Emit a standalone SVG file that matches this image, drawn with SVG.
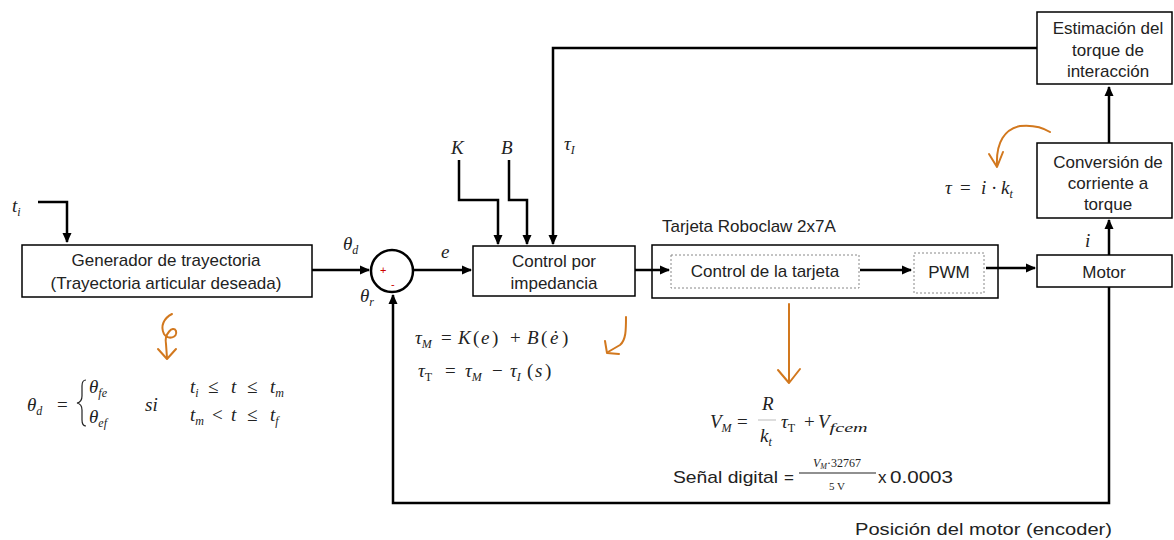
<svg xmlns="http://www.w3.org/2000/svg" width="1174" height="540" viewBox="0 0 1174 540">
<defs>
<marker id="ah" markerWidth="10" markerHeight="10" refX="9" refY="5" orient="auto" markerUnits="userSpaceOnUse">
<path d="M0,0.5 L10,5 L0,9.5 z" fill="#000"/>
</marker>
<style>
.box{fill:#fff;stroke:#000;stroke-width:1.5}
.dbox{fill:#fff;stroke:#888;stroke-width:1;stroke-dasharray:2,2}
.ln{fill:none;stroke:#000;stroke-width:2.5}
.lbl{font-family:"Liberation Sans",Arial,sans-serif;font-size:17px;fill:#222}
.m{font-family:"Liberation Serif","Times New Roman",serif;font-style:italic;font-size:19px;fill:#222}
.mr{font-family:"Liberation Serif","Times New Roman",serif;font-size:19px;fill:#222}
.s{font-size:12px}
.or{fill:none;stroke:#d2781e;stroke-width:2;stroke-linecap:round;stroke-linejoin:round}
</style>
</defs>
<rect width="1174" height="540" fill="#fff"/>

<g id="generador">
<rect class="box" x="22" y="245" width="290" height="52"/>
<text class="lbl" x="166" y="266" text-anchor="middle" font-size="17.5">Generador de trayectoria</text>
<text class="lbl" x="166" y="289" text-anchor="middle" font-size="17.5">(Trayectoria articular deseada)</text>
</g>

<g id="suma">
<circle cx="392" cy="271" r="21" fill="#fff" stroke="#000" stroke-width="2.5"/>
<text x="380" y="274" font-family="Liberation Sans,sans-serif" font-size="11" fill="#c00">+</text>
<text x="391" y="288" font-family="Liberation Sans,sans-serif" font-size="11" fill="#c00">-</text>
</g>

<g id="control-impedancia">
<rect class="box" x="473" y="246" width="162" height="50"/>
<text class="lbl" x="554" y="267" text-anchor="middle">Control por</text>
<text class="lbl" x="554" y="289" text-anchor="middle">impedancia</text>
</g>

<g id="tarjeta">
<text class="lbl" x="662" y="232" font-size="18">Tarjeta Roboclaw 2x7A</text>
<rect class="box" x="652" y="245" width="346" height="53"/>
</g>
<g id="control-tarjeta">
<rect class="dbox" x="671" y="255" width="188" height="33"/>
<text class="lbl" x="765" y="277" text-anchor="middle" font-size="17.5">Control de la tarjeta</text>
</g>
<g id="pwm">
<rect class="dbox" x="914" y="253" width="70" height="40"/>
<text class="lbl" x="949" y="278" text-anchor="middle" font-size="17.5">PWM</text>
</g>

<g id="motor">
<rect class="box" x="1037" y="255" width="135" height="32"/>
<text class="lbl" x="1104" y="278" text-anchor="middle">Motor</text>
</g>
<g id="conversion">
<rect class="box" x="1037" y="143" width="135" height="75"/>
<text class="lbl" x="1108" y="168" text-anchor="middle" font-size="17.5">Conversión de</text>
<text class="lbl" x="1108" y="189" text-anchor="middle" font-size="17.5">corriente a</text>
<text class="lbl" x="1108" y="210" text-anchor="middle" font-size="17.5">torque</text>
</g>
<g id="estimacion">
<rect class="box" x="1037" y="12" width="135" height="72"/>
<text class="lbl" x="1108" y="34" text-anchor="middle" font-size="17.5">Estimación del</text>
<text class="lbl" x="1108" y="56" text-anchor="middle" font-size="17.5">torque de</text>
<text class="lbl" x="1108" y="77" text-anchor="middle" font-size="17.5">interacción</text>
</g>

<g id="connectors">
<path class="ln" d="M38,202 H67 V242" marker-end="url(#ah)"/>
<path class="ln" d="M312,270 H369" marker-end="url(#ah)"/>
<path class="ln" d="M414,270 H471" marker-end="url(#ah)"/>
<path class="ln" d="M459,160 V200 H498 V244" marker-end="url(#ah)"/>
<path class="ln" d="M509,160 V200 H527 V244" marker-end="url(#ah)"/>
<path class="ln" d="M1037,48 H553 V244" marker-end="url(#ah)"/>
<path class="ln" d="M635,270 H669" marker-end="url(#ah)"/>
<path class="ln" d="M860,270 H911" marker-end="url(#ah)"/>
<path class="ln" d="M986,268 H1035" marker-end="url(#ah)"/>
<path class="ln" d="M1109,255 V220" marker-end="url(#ah)"/>
<path class="ln" d="M1109,143 V87" marker-end="url(#ah)"/>
<path class="ln" d="M1109,287 V503 H393 V295" marker-end="url(#ah)"/>
</g>

<g id="labels">
<text class="m" x="12" y="212">t<tspan class="s" dy="4">i</tspan></text>
<text class="m" x="343" y="250">θ<tspan class="s" dy="4">d</tspan></text>
<text class="m" x="441" y="258">e</text>
<text class="m" x="451" y="154">K</text>
<text class="m" x="501" y="154">B</text>
<text class="m" x="564" y="150">τ<tspan class="s" dy="4">I</tspan></text>
<text class="m" x="360" y="302">θ<tspan class="s" dy="4">r</tspan></text>
<text class="m" x="1085" y="247">i</text>
<text class="mr" y="194"><tspan x="945" font-style="italic">τ</tspan><tspan x="960">=</tspan><tspan x="981" font-style="italic">i</tspan><tspan x="991">·</tspan><tspan x="1001" font-style="italic">k</tspan><tspan class="s" dy="4" font-style="italic">t</tspan></text>
<text class="lbl" x="855" y="535" font-size="18" textLength="257" lengthAdjust="spacingAndGlyphs">Posición del motor (encoder)</text>
</g>

<g id="ecuacion-theta">
<text class="m" x="27" y="411" font-size="21">θ<tspan class="s" dy="4">d</tspan></text>
<text class="mr" x="57" y="411" font-size="21">=</text>
<path d="M86,380 q-4,0 -4,6 v10 q0,6 -5,7 q5,1 5,7 v10 q0,6 4,6" fill="none" stroke="#222" stroke-width="1.2"/>
<text class="m" x="89" y="393">θ<tspan class="s" dy="4">fe</tspan></text>
<text class="m" x="89" y="423">θ<tspan class="s" dy="4">ef</tspan></text>
<text class="m" x="145" y="411">si</text>
<text class="mr" y="393"><tspan x="190" font-style="italic">t</tspan><tspan class="s" dy="4" font-style="italic">i</tspan><tspan x="208" dy="-4">≤</tspan><tspan x="231" font-style="italic">t</tspan><tspan x="247">≤</tspan><tspan x="270" font-style="italic">t</tspan><tspan class="s" dy="4" font-style="italic">m</tspan></text>
<text class="mr" y="421"><tspan x="190" font-style="italic">t</tspan><tspan class="s" dy="4" font-style="italic">m</tspan><tspan x="212" dy="-4">&lt;</tspan><tspan x="231" font-style="italic">t</tspan><tspan x="247">≤</tspan><tspan x="270" font-style="italic">t</tspan><tspan class="s" dy="4" font-style="italic">f</tspan></text>
</g>

<g id="ecuacion-tau">
<text class="mr" y="344" font-size="20"><tspan x="415" font-style="italic">τ</tspan><tspan class="s" dy="4" font-style="italic">M</tspan><tspan x="441" dy="-4">=</tspan><tspan x="458" font-style="italic">K</tspan><tspan x="473">(</tspan><tspan x="481" font-style="italic">e</tspan><tspan x="492">)</tspan><tspan x="510">+</tspan><tspan x="527" font-style="italic">B</tspan><tspan x="541">(</tspan><tspan x="550" font-style="italic">ė</tspan><tspan x="562">)</tspan></text>
<text class="mr" y="377" font-size="20"><tspan x="418" font-style="italic">τ</tspan><tspan class="s" dy="4">T</tspan><tspan x="445" dy="-4">=</tspan><tspan x="465" font-style="italic">τ</tspan><tspan class="s" dy="4" font-style="italic">M</tspan><tspan x="492" dy="-4">−</tspan><tspan x="510" font-style="italic">τ</tspan><tspan class="s" dy="4" font-style="italic">I</tspan><tspan x="527" dy="-4">(</tspan><tspan x="535" font-style="italic">s</tspan><tspan x="545">)</tspan></text>
</g>

<g id="ecuacion-vm">
<text class="m" x="710" y="428">V<tspan class="s" dy="4">M</tspan></text>
<text class="mr" x="737" y="428">=</text>
<text class="m" x="762" y="410">R</text>
<line x1="758" y1="420" x2="776" y2="420" stroke="#bbb" stroke-width="1"/>
<text class="m" x="760" y="442">k<tspan class="s" dy="4">t</tspan></text>
<text class="mr" y="428"><tspan x="781" font-style="italic">τ</tspan><tspan class="s" dy="4">T</tspan><tspan x="804" dy="-4">+</tspan><tspan x="818" font-style="italic">V</tspan><tspan class="s" dy="4" font-style="italic" textLength="38" lengthAdjust="spacingAndGlyphs">fcem</tspan></text>
</g>

<g id="senal-digital">
<text class="lbl" x="673" y="483" font-size="18.5" textLength="105" lengthAdjust="spacingAndGlyphs">Señal digital</text>
<text class="lbl" x="784" y="483" font-size="18.5">=</text>
<text x="837" y="467" text-anchor="middle" font-family="Liberation Serif,serif" font-size="12" fill="#222"><tspan font-style="italic">V</tspan><tspan font-size="8" dy="2" font-style="italic">M</tspan><tspan dy="-2">·32767</tspan></text>
<line x1="799" y1="473" x2="876" y2="473" stroke="#222" stroke-width="1.2"/>
<text x="837" y="490" text-anchor="middle" font-family="Liberation Serif,serif" font-size="11" fill="#222">5 V</text>
<text class="lbl" x="878" y="483" font-size="17">x</text>
<text class="lbl" x="890" y="483" font-size="18.5" textLength="63" lengthAdjust="spacingAndGlyphs">0.0003</text>
</g>

<g id="anotaciones">
<path class="or" d="M172,314 C164,318 160,326 164,334 C168,340 178,338 176,331 C173,325 164,334 166,344 L167,358"/>
<path class="or" d="M158,349 L167,359 L176,349"/>
<path class="or" d="M626,317 C626,330 626,340 620,345 L608,352"/>
<path class="or" d="M605,341 L607,353 L619,354"/>
<path class="or" d="M789,304 L789,382"/>
<path class="or" d="M778,370 L789,383 L800,369"/>
<path class="or" d="M1050,132 C1042,127 1030,125 1020,126 C1005,129 996,142 997,165"/>
<path class="or" d="M989,154 L997,167 L1003,152"/>
</g>
</svg>
